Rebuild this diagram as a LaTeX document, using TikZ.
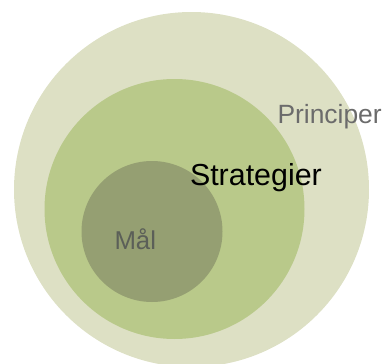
\documentclass[tikz,border=0pt]{standalone}
\usepackage{fontspec}
\setmainfont{Liberation Sans}
\definecolor{outerfill}{HTML}{DDE0C4}
\definecolor{midfill}{HTML}{B9C98A}
\definecolor{innerfill}{HTML}{959F72}
\definecolor{labelgray}{HTML}{6B6B6B}
\definecolor{innergray}{HTML}{5B5F58}
\begin{document}
\begin{tikzpicture}[x=1pt,y=-1pt,
  ring/.style={draw=none},
  lbl/.style={anchor=base west,inner sep=0pt,outer sep=0pt}]
\useasboundingbox (0,0) rectangle (389,364);
\clip (0,0) rectangle (389,364);
% nested circles
\fill[outerfill] (191.5,189.5) circle[radius=177.5];
\fill[midfill] (174.5,209) circle[radius=130];
\fill[innerfill] (152,231.5) circle[radius=70.5];
% labels
\node[lbl,text=labelgray,font=\fontsize{26.4}{30}\selectfont] (princ) at (277.5,123) {Principer};
\node[lbl,text=black,font=\fontsize{30.4}{34}\selectfont] (strat) at (190,185) {Strategier};
\node[lbl,text=innergray,font=\fontsize{25.8}{30}\selectfont] (maal) at (114.5,249) {Mål};
\end{tikzpicture}
\end{document}
